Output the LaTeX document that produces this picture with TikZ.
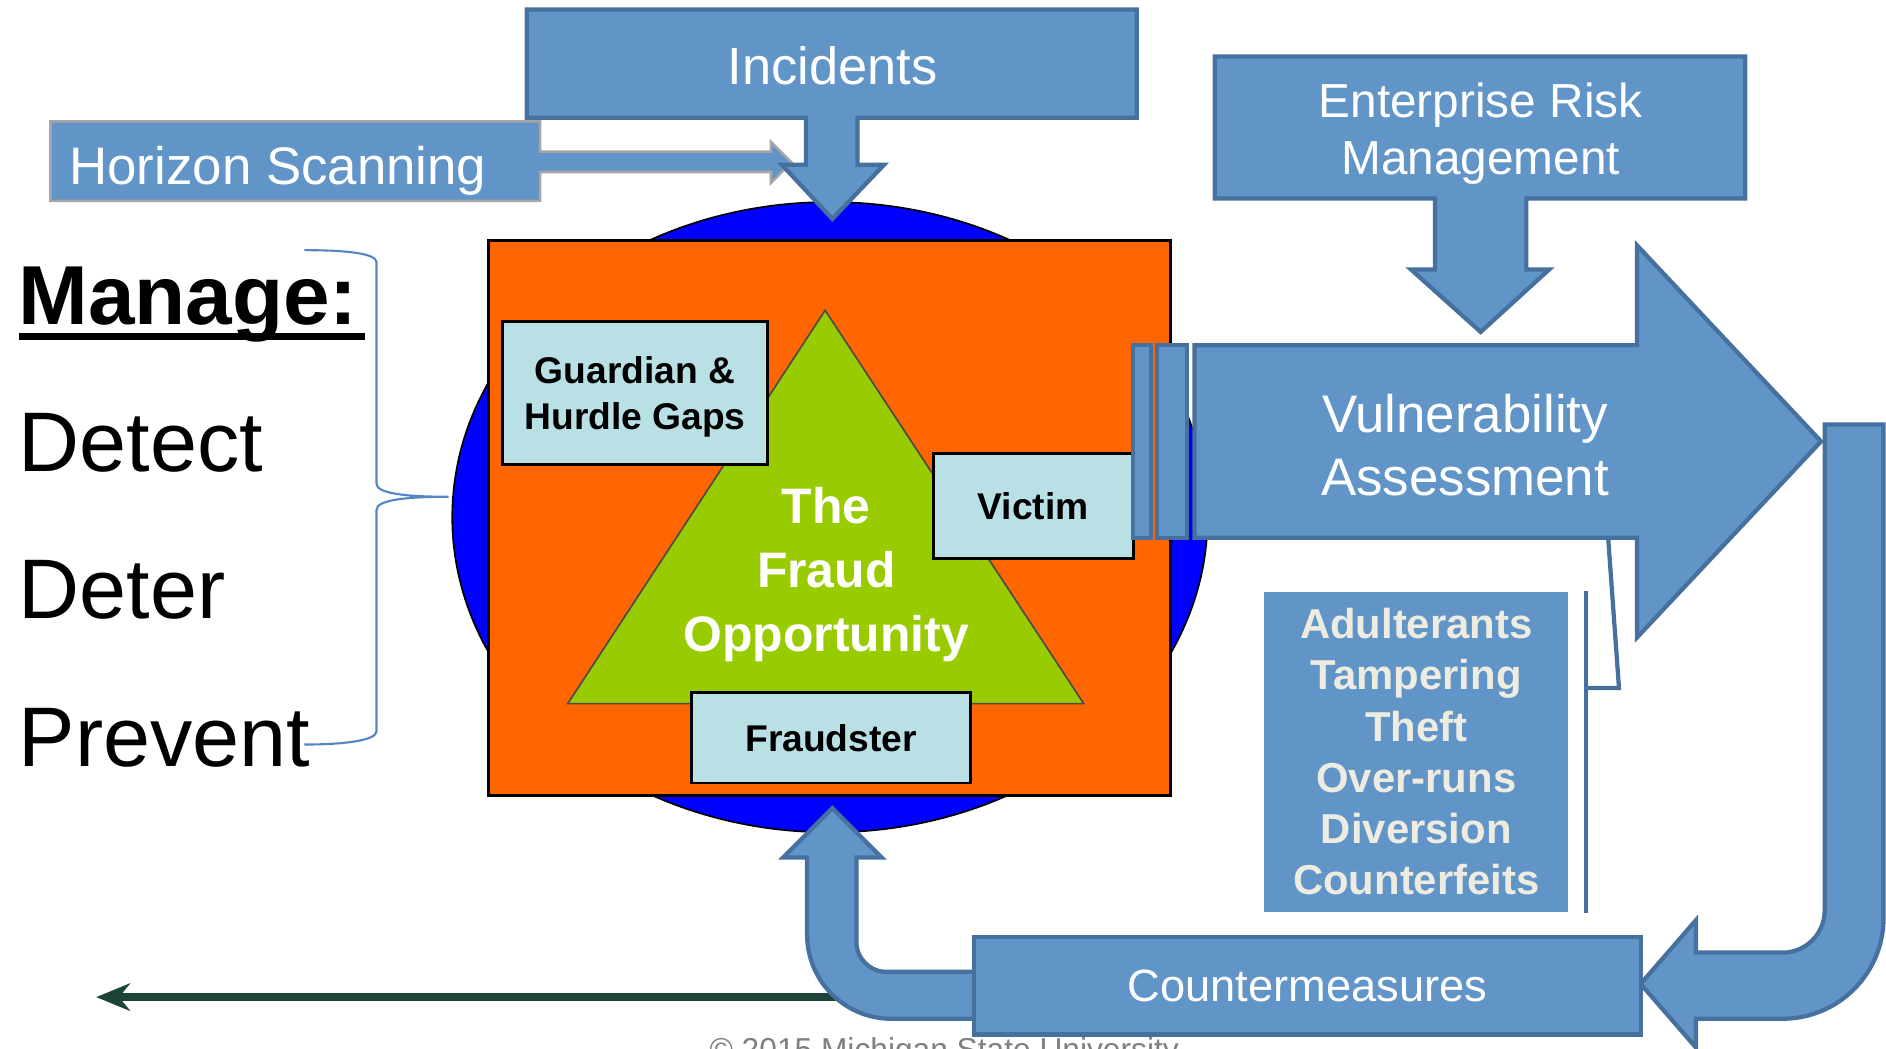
\documentclass[tikz,border=0pt]{standalone}
\usepackage{fontspec}
\setmainfont{Liberation Sans}
\usetikzlibrary{arrows.meta}
\definecolor{blkfill}{RGB}{97,149,199}
\definecolor{blkline}{RGB}{70,112,158}
\definecolor{gapfill}{RGB}{185,224,228}
\definecolor{fraudorange}{RGB}{255,102,0}
\definecolor{fraudgreen}{RGB}{153,204,0}
\definecolor{threattext}{RGB}{238,236,225}
\definecolor{pathgreen}{RGB}{28,68,56}
\definecolor{bracecol}{RGB}{84,134,196}

\begin{document}
\begin{tikzpicture}[x=0.1mm,y=-0.1mm,>=Stealth,
  blk/.style={fill=blkfill,draw=blkline,line width=1pt},
  gapbox/.style={draw=black,fill=gapfill,line width=0.7pt,inner sep=0pt,align=center,font=\fontsize{8.8}{10.9}\selectfont\bfseries},
  whitetxt/.style={text=white,inner sep=0pt,align=center},
  sidetxt/.style={anchor=base west,inner sep=0pt,font=\fontsize{20}{24}\selectfont}]
  \useasboundingbox (0,0) rectangle (1568,872);
  \clip (0,0) rectangle (1568,872);

  % the fraud opportunity core
  \draw[fill=blue,draw=black,line width=0.4pt] (690,430) ellipse [x radius=314,y radius=262];
  \draw[fill=fraudorange,draw=black,line width=0.7pt] (406,200) rectangle (973,661);
  \draw[fill=fraudgreen,draw=black!70,line width=0.4pt] (686,258) -- (901,585) -- (472,585) -- cycle;
  \node[gapbox,minimum width=22mm,minimum height=11.9mm,text depth=0pt] (guardian) at (528,326.5) {Guardian \&\\Hurdle Gaps};
  \node[gapbox,minimum width=16.6mm,minimum height=8.7mm] (victim) at (859,420.5) {Victim};
  \node[gapbox,minimum width=23.2mm,minimum height=7.5mm] (fraudster) at (691,613.5) {Fraudster};
  \node[whitetxt,font=\fontsize{11.8}{15.1}\selectfont\bfseries] (opp) at (687,478) {The\\Fraud\\Opportunity};

  % inputs from the top
  \draw[blk,draw=black!35,line width=0.6pt] (42,101) -- (449,101) -- (449,126) -- (641,126) -- (641,118) -- (658,135) -- (641,152) -- (641,143) -- (449,143) -- (449,167) -- (42,167) -- cycle;
  \node[whitetxt,anchor=west,font=\fontsize{12.5}{15}\selectfont] (horizon) at (57,142) {Horizon Scanning};
  \draw[blk] (438,8) -- (945,8) -- (945,98) -- (713,98) -- (713,137) -- (735,137) -- (692,182) -- (650,137) -- (670,137) -- (670,98) -- (438,98) -- cycle;
  \node[whitetxt,font=\fontsize{12.4}{15}\selectfont] (incidents) at (692,55) {Incidents};
  \draw[blk] (1010,47) -- (1451,47) -- (1451,165) -- (1269,165) -- (1269,224) -- (1288,224) -- (1231,276) -- (1173,224) -- (1193,224) -- (1193,165) -- (1010,165) -- cycle;
  \node[whitetxt,font=\fontsize{11.3}{13.6}\selectfont] (erm) at (1231,111) {Enterprise Risk\\Management};

  % loop back round to countermeasures
  \draw[blk] (1517,353) -- (1566,353) -- (1566,763) arc[start angle=0,end angle=90,radius=84] -- (1410,847) -- (1410,871) -- (1364,818) -- (1410,765) -- (1410,792) -- (1482,792) arc[start angle=90,end angle=0,radius=35] -- cycle;

  % vulnerability assessment
  \draw[blk] (993,287) -- (1361,287) -- (1361,204) -- (1514,367) -- (1361,530) -- (1361,447) -- (993,447) -- cycle;
  \draw[blk] (942,287) rectangle (957,447);
  \draw[blk] (962,287) rectangle (987,447);
  \node[whitetxt,font=\fontsize{12.5}{15.05}\selectfont] (vuln) at (1218,370) {Vulnerability\\Assessment};

  \node[fill=blkfill,minimum width=25.3mm,minimum height=26.6mm,inner sep=0pt,text=threattext,align=center,font=\fontsize{9.9}{12.1}\selectfont\bfseries] (threats) at (1177.5,625) {Adulterants\\Tampering\\Theft\\Over-runs\\Diversion\\Counterfeits};
  \draw[blkline,line width=1pt] ([xshift=1.4mm]threats.north east) -- ([xshift=1.4mm]threats.south east);
  \draw[blkline,line width=1pt] (1318,572) -- (1346,572) -- (1337,447);

  % countermeasures feed back into the core
  \coordinate (gstart) at (700,829);
  \coordinate (gend) at (80,829);
  \draw[pathgreen,line width=2pt,-{Stealth[length=8pt,width=6.5pt]}] (gstart) -- (gend);
  \draw[blk] (812,808) -- (737,808) arc[start angle=90,end angle=180,radius=25] -- (712,713) -- (733,713) -- (692,672) -- (651,713) -- (671,713) -- (671,777) arc[start angle=180,end angle=90,radius=70] -- (812,847) -- cycle;
  \node[blk,minimum width=55.4mm,minimum height=8.1mm,inner sep=0pt,text=white,font=\fontsize{10.7}{13}\selectfont] (counter) at (1087,819.5) {Countermeasures};

  % manage list and brace
  \node[sidetxt,font=\fontsize{19.8}{24}\selectfont\bfseries] (manage) at (14.5,270) {Manage:};
  \draw[line width=1.7pt] ([shift={(1.5,9.5)}]manage.base west) -- ([shift={(5,9.5)}]manage.base east);
  \node[sidetxt] (detect) at (15,392) {Detect};
  \node[sidetxt] (deter) at (15,514) {Deter};
  \node[sidetxt] (prevent) at (15,637) {Prevent};
  \draw[bracecol,line width=0.5pt] (253,208) .. controls (290,208) and (313,211) .. (313,218) -- (313,402) .. controls (313,410) and (335,413) .. (373,413) .. controls (335,413) and (313,416) .. (313,424) -- (313,608) .. controls (313,615) and (290,619) .. (253,619);

  \node[text=black!50,anchor=base,inner sep=0pt,font=\fontsize{7.5}{9}\selectfont] (msu) at (785,882) {\textcopyright{} 2015 Michigan State University};
\end{tikzpicture}
\end{document}
